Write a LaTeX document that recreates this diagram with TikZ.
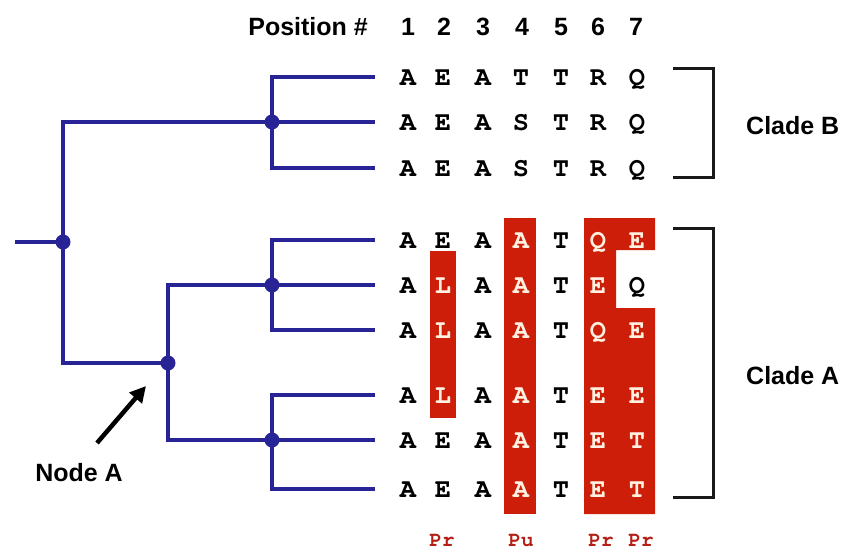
\documentclass[tikz,border=0pt]{standalone}
\usepackage[T1]{fontenc}
\usepackage{fontspec}
\setmainfont{Liberation Sans}
\usetikzlibrary{arrows.meta}
\newcommand{\courb}{\fontencoding{T1}\fontfamily{pcr}\fontseries{b}\selectfont}
\definecolor{treeblue}{RGB}{40,36,150}
\definecolor{boxred}{RGB}{204,30,8}
\definecolor{tagred}{RGB}{180,30,20}
\definecolor{cream}{RGB}{255,240,225}
\tikzset{
  branch/.style={line width=4.5pt, draw=treeblue, line cap=rect},
  dot/.style={circle, fill=treeblue, minimum size=15pt, inner sep=0pt},
  seq/.style={font=\fontsize{27}{27}\courb, anchor=base, inner sep=0pt},
  hl0/.style={text=black},
  hl1/.style={text=cream},
  hdr/.style={font=\fontsize{25}{25}\selectfont\bfseries, anchor=base, inner sep=0pt},
  lbl/.style={font=\fontsize{25}{25}\selectfont\bfseries, anchor=base west, inner sep=0pt},
  brack/.style={line width=3pt, draw=black!90},
  tag/.style={font=\fontsize{21}{21}\courb, text=tagred, anchor=base, inner sep=0pt},
}
\begin{document}
\begin{tikzpicture}[x=1pt,y=-1pt]
\useasboundingbox (0,0) rectangle (846,552);
% red highlight boxes
\fill[boxred] (430,251) rectangle (456,418);
\fill[boxred] (504,218) rectangle (536,514);
\fill[boxred] (584,218) -- (655,218) -- (655,250) -- (616,250) -- (616,308) -- (655,308) -- (655,514) -- (584,514) -- cycle;
% tree
\coordinate (stub) at (17,242);
\node[dot] (root) at (63,242) {};
\node[dot] (nB) at (272,122) {};
\node[dot] (nA) at (168,363) {};
\node[dot] (n1) at (272,285) {};
\node[dot] (n2) at (272,440) {};
\foreach \i/\y in {1/77,2/122,3/168,4/240,5/285,6/330,7/395,8/440,9/489}
  \coordinate (leaf\i) at (373,\y);
\draw[branch] (stub) -- (root.center);
\draw[branch] (root.center) |- (nB.center);
\draw[branch] (root.center) |- (nA.center);
\draw[branch] (nA.center) |- (n1.center);
\draw[branch] (nA.center) |- (n2.center);
\foreach \i in {1,2,3} \draw[branch] (nB.center) |- (leaf\i);
\foreach \i in {4,5,6} \draw[branch] (n1.center) |- (leaf\i);
\foreach \i in {7,8,9} \draw[branch] (n2.center) |- (leaf\i);
% header
\node[hdr, anchor=base east] (pos) at (368,35) {Position \#};
\foreach \c/\x in {1/408,2/444,3/483,4/522,5/561,6/598,7/636}
  \node[hdr] (h\c) at (\x,35) {\c};
% sequences
\foreach \r/\y/\s in {
  1/77/{A/0,E/0,A/0,T/0,T/0,R/0,Q/0},
  2/122/{A/0,E/0,A/0,S/0,T/0,R/0,Q/0},
  3/168/{A/0,E/0,A/0,S/0,T/0,R/0,Q/0},
  4/240/{A/0,E/0,A/0,A/1,T/0,Q/1,E/1},
  5/285/{A/0,L/1,A/0,A/1,T/0,E/1,Q/0},
  6/330/{A/0,L/1,A/0,A/1,T/0,Q/1,E/1},
  7/395/{A/0,L/1,A/0,A/1,T/0,E/1,E/1},
  8/440/{A/0,E/0,A/0,A/1,T/0,E/1,T/1},
  9/489/{A/0,E/0,A/0,A/1,T/0,E/1,T/1}}{
  \foreach \ch/\f [count=\c] in \s {
    \pgfmathsetmacro{\xx}{{408,443,483,521,561,598,637}[\c-1]}
    \node[seq, hl\f] (s\r-\c) at (\xx,\y+8.5) {\ch};
  }
}
% brackets
\coordinate (bBt) at (673,68);
\coordinate (bBb) at (673,177);
\coordinate (bAt) at (673,228);
\coordinate (bAb) at (673,497);
\draw[brack] (bBt) -- ++(40,0) |- (bBb);
\draw[brack] (bAt) -- ++(40,0) |- (bAb);
\node[lbl] (cladeB) at (746,134) {Clade B};
\node[lbl] (cladeA) at (746,384) {Clade A};
% Node A annotation
\node[lbl, anchor=base] (nodeA) at (79,481) {Node A};
\coordinate (arrtip) at (146,386);
\draw[line width=4.5pt, -{Triangle[length=16pt,width=16pt]}] (97,443) -- (arrtip);
% bottom tags
\node[tag] (t1) at (442,546) {Pr};
\node[tag] (t2) at (521,546) {Pu};
\node[tag] (t3) at (601,546) {Pr};
\node[tag] (t4) at (641,546) {Pr};
\end{tikzpicture}
\end{document}
